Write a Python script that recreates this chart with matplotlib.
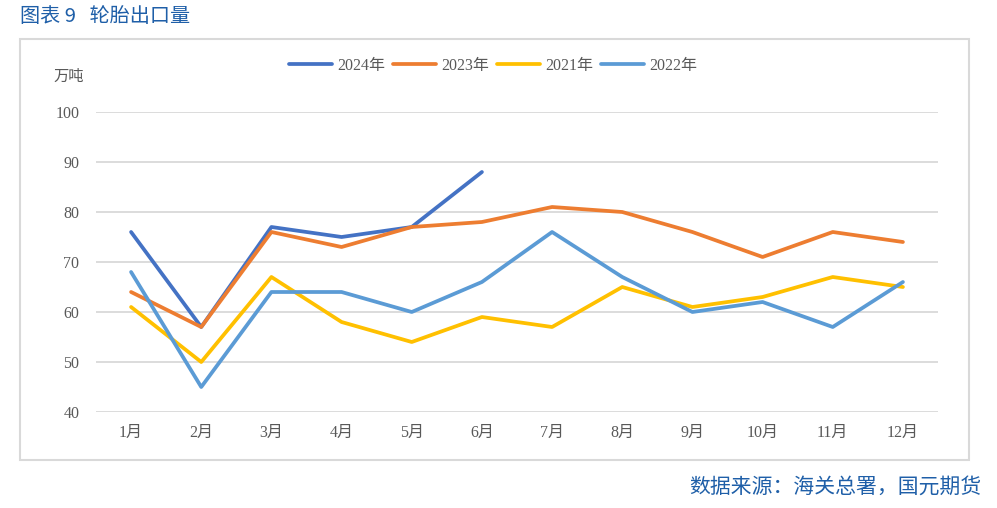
import matplotlib.pyplot as plt
from matplotlib.patches import Rectangle

plt.rcParams['font.family'] = ['Liberation Serif', 'Noto Sans CJK SC', 'DejaVu Sans']

# months and series (万吨)
months = ['1月', '2月', '3月', '4月', '5月', '6月', '7月', '8月', '9月', '10月', '11月', '12月']
y2024 = [76, 57, 77, 75, 77, 88]
y2023 = [64, 57, 76, 73, 77, 78, 81, 80, 76, 71, 76, 74]
y2021 = [61, 50, 67, 58, 54, 59, 57, 65, 61, 63, 67, 65]
y2022 = [68, 45, 64, 64, 60, 66, 76, 67, 60, 62, 57, 66]

fig = plt.figure(figsize=(9.97, 5.08), dpi=100)

# outer grey frame
fig.patches.append(Rectangle((20 / 997, 1 - 460 / 508), 949 / 997, 421 / 508,
                             transform=fig.transFigure, fill=False,
                             edgecolor='#d9d9d9', linewidth=1.5))

ax = fig.add_axes([96 / 997, 1 - 412 / 508, 842 / 997, 300 / 508])

x = list(range(len(months)))
lw = 2.7
ax.plot(x[:len(y2024)], y2024, color='#4472C4', lw=lw, label='2024年', solid_capstyle='round')
ax.plot(x, y2023, color='#ED7D31', lw=lw, label='2023年', solid_capstyle='round')
ax.plot(x, y2021, color='#FFC000', lw=lw, label='2021年', solid_capstyle='round')
ax.plot(x, y2022, color='#5B9BD5', lw=lw, label='2022年', solid_capstyle='round')

ax.set_xlim(-0.5, 11.5)
ax.set_ylim(40, 100)
ax.set_yticks(range(40, 101, 10))
ax.set_xticks(x)
ax.set_xticklabels(months)
ax.grid(axis='y', color='#d9d9d9', linewidth=1.3)
ax.set_axisbelow(True)
for s in ax.spines.values():
    s.set_visible(False)
ax.tick_params(length=0, labelsize=11.5, colors='#595959')
ax.tick_params(axis='y', pad=12)
ax.tick_params(axis='x', pad=9)

leg = fig.legend(loc='center', bbox_to_anchor=(493 / 997, 1 - 66 / 508), ncol=4,
                 frameon=False, fontsize=11.5, handlelength=2.7, columnspacing=0.5,
                 handletextpad=0.3)
for t in leg.get_texts():
    t.set_color('#595959')

fig.text(53 / 997, 1 - 76 / 508, '万吨', fontsize=11, color='#595959',
         va='center', family=['Noto Sans CJK SC'])

fig.text(20 / 997, 1 - 16 / 508, '图表 9   轮胎出口量', fontsize=14.5, color='#1F5FA8',
         va='center', family=['Noto Sans CJK SC', 'DejaVu Sans'])
fig.text(981 / 997, 1 - 487 / 508, '数据来源：海关总署，国元期货', fontsize=15,
         color='#1F5FA8', va='center', ha='right', family=['Noto Sans CJK SC'])

fig.savefig('out.png', dpi=100)
